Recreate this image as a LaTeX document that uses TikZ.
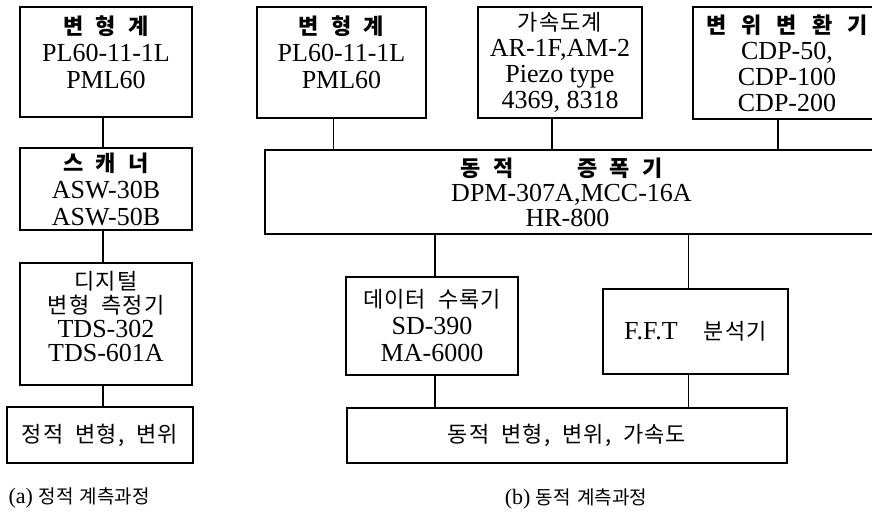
\documentclass[tikz,border=0pt]{standalone}
\usepackage{fontspec}
\setmainfont{Liberation Serif}
\newfontfamily\krfont[LetterSpace=5,WordSpace=2]{Noto Sans CJK KR}
\newfontfamily\krcap[WordSpace=1.5]{Noto Sans CJK KR}
\newcommand{\ko}[1]{{\krfont\fontsize{22}{27}\selectfont #1}}
\newcommand{\kob}[1]{{\krfont\bfseries\fontsize{22}{27}\selectfont #1}}
\newcommand{\kocap}[1]{{\krcap\fontsize{19}{24}\selectfont #1}}
\newcommand{\wgap}{\hspace{15pt}}
\tikzset{
  every picture/.style={line width=1.3pt},
  box/.style={draw, line width=1.6pt, align=center, inner sep=0pt,
    font=\fontsize{26}{27}\selectfont},
  wire/.style={line width=1.3pt},
  caption/.style={inner sep=0pt, font=\fontsize{22}{24}\selectfont},
}

\begin{document}
\begin{tikzpicture}[x=1pt, y=-1pt]
  \useasboundingbox (0,0) rectangle (872,515);
  \clip (0,0) rectangle (872,515);
  % (a) static chain
  \node[box, minimum width=172, minimum height=110, text depth=20pt] (sgauge) at (106,62) {\kob{변 형 계}\\PL60-11-1L\\PML60};
  \node[box, minimum width=172, minimum height=82] (scan) at (106,189) {\kob{스 캐 너}\\ASW-30B\\ASW-50B};
  \node[box, minimum width=172, minimum height=122, text depth=16pt] (meter) at (106,324) {\ko{디지털}\\[-3pt]\ko{변형 측정기}\\[-3pt]TDS-302\\[-3pt]TDS-601A};
  \node[box, minimum width=186, minimum height=56] (static) at (100,435) {\ko{정적 변형, 변위}};
  \node[caption, anchor=west] (capa) at (8,498) {(a) \kocap{정적 계측과정}};
  % (b) dynamic chain
  \node[box, minimum width=169, minimum height=111, text depth=20pt] (dgauge) at (341.5,62.5) {\kob{변 형 계}\\PL60-11-1L\\PML60};
  \node[box, minimum width=164, minimum height=111] (accel) at (560,62.5) {\ko{가속도계}\\[-1pt]AR-1F,AM-2\\[-1pt]Piezo type\\[-1pt]4369, 8318};
  \node[box, minimum width=188, minimum height=112] (disp) at (787,63) {\kob{변\wgap 위\wgap 변\wgap 환\wgap 기}\\[-1pt]CDP-50,\\[-1pt]CDP-100\\[-1pt]CDP-200};
  \node[box, minimum width=613, minimum height=84] (amp) at (571.5,192) {\kob{동 적\hspace{64pt}증 폭 기}\hspace*{20pt}\\[-2pt]DPM-307A,MCC-16A\hspace*{8pt}\\[-2pt]HR-800\hspace*{8pt}};
  \node[box, minimum width=172, minimum height=98] (rec) at (432,326) {\ko{데이터 수록기}\\SD-390\\MA-6000};
  \node[box, minimum width=185, minimum height=85] (fft) at (695.5,331.5) {F.F.T\hspace{26pt}\ko{분석기}};
  \node[box, minimum width=440, minimum height=55] (out) at (567,435.5) {\ko{동적 변형, 변위, 가속도}};
  \node[caption] (capb) at (576,499) {(b) \kocap{동적 계측과정}};
  % connectors
  \foreach \top/\bot/\dx in {sgauge/scan/-3, scan/meter/-3, meter/static/-3,
      dgauge/amp/-8, accel/amp/-8, disp/amp/-9, rec/out/3, fft/out/-7}
    \draw[wire] ([xshift=\dx]\top.south) coordinate (w) -- (w |- \bot.north);
  \foreach \bot/\dx in {rec/3, fft/-7}
    \draw[wire] ([xshift=\dx]\bot.north) coordinate (w) -- (w |- amp.south);
\end{tikzpicture}
\end{document}
